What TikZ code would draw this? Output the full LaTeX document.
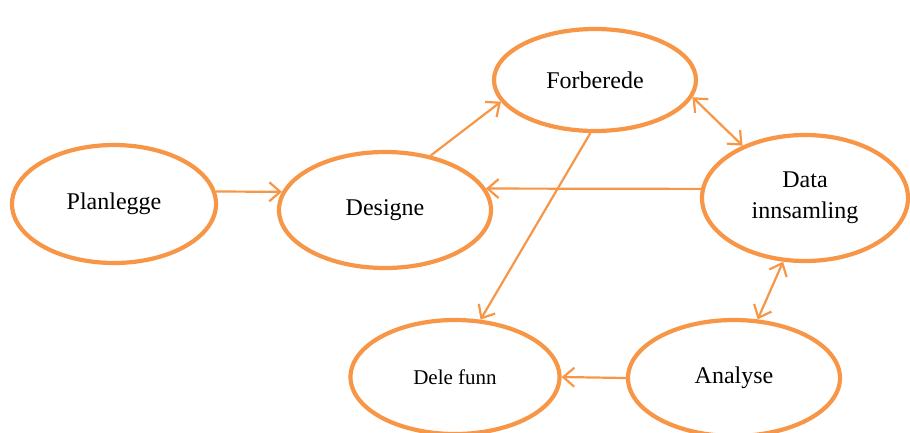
\documentclass[tikz,border=0pt]{standalone}
\usepackage{fontspec}
\setmainfont{Liberation Serif}
\usetikzlibrary{shapes.geometric,arrows.meta}
\definecolor{orng}{HTML}{F79646}
\begin{document}
\begin{tikzpicture}[x=1pt,y=-1pt,
  stage/.style={ellipse,draw=orng,line width=4.2pt,inner sep=0pt,align=center,
    font=\fontsize{24}{31}\selectfont},
  conn/.style={draw=orng,line width=2.2pt,-{Straight Barb[length=11pt,width=19pt]}},
  conn2/.style={draw=orng,line width=2.2pt,{Straight Barb[length=11pt,width=19pt]}-{Straight Barb[length=11pt,width=19pt]}}]
\useasboundingbox (0,0) rectangle (910,432);
\node[stage,minimum width=204pt,minimum height=118pt] (pl) at (114,204) {Planlegge};
\node[stage,minimum width=212pt,minimum height=116pt] (de) at (385,210) {Designe};
\node[stage,minimum width=202pt,minimum height=102pt] (fo) at (595,80) {Forberede};
\node[stage,minimum width=206pt,minimum height=126pt] (da) at (805,198) {Data\\innsamling};
\node[stage,minimum width=209pt,minimum height=114pt,font=\fontsize{21}{25}\selectfont] (dl) at (455,377) {Dele funn};
\node[stage,minimum width=212pt,minimum height=116pt] (an) at (734,378) {Analyse};
\draw[conn] (pl.7.2) -- (de.170.5);
\draw[conn] (de.50.7) -- (fo.-167.7);
\draw[conn] (fo.-95) -- (dl.66.3);
\draw[conn] (da.175) -- (de.12.5);
\draw[conn2] (fo.-10.2) -- (da.140.6);
\draw[conn2] (da.-109.3) -- (an.68.8);
\draw[conn] (an.180.5) -- (dl.0);
\end{tikzpicture}
\end{document}
